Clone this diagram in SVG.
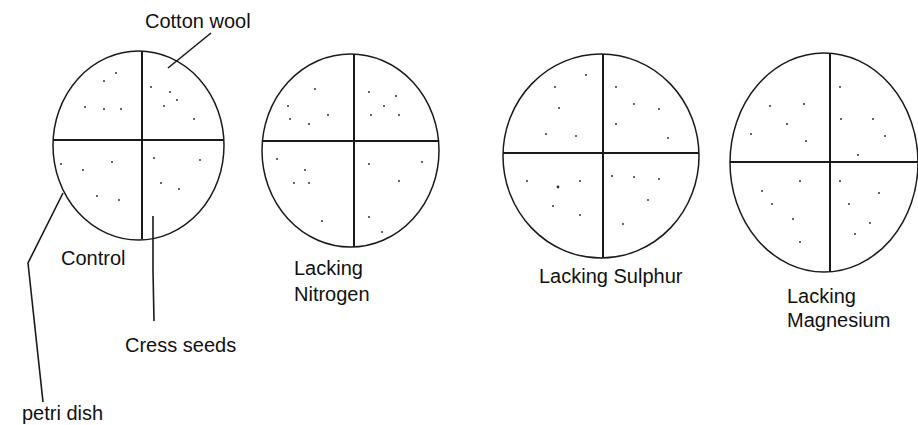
<svg xmlns="http://www.w3.org/2000/svg" width="918" height="425" viewBox="0 0 918 425">
<style>
.dish{fill:none;stroke:#1a1a1a;stroke-width:1.5}
.cross{stroke:#1a1a1a;stroke-width:2;fill:none}
.lead{stroke:#1a1a1a;stroke-width:1.6;fill:none}
.dot{fill:#333}
text{font-family:"Liberation Sans",Arial,sans-serif;font-size:20px;fill:#111}
</style>
<rect width="918" height="425" fill="#ffffff"/>
<g id="control">
<ellipse class="dish" cx="138.5" cy="145.5" rx="85.5" ry="94.5"/>
<path class="cross" d="M142 51V239M53 140H224"/>
<g class="dot">
<circle cx="116" cy="73" r="1"/><circle cx="104" cy="81" r="1"/><circle cx="85" cy="107" r="1"/><circle cx="104" cy="109" r="1"/><circle cx="121" cy="109" r="1"/><circle cx="151" cy="87" r="1"/><circle cx="170" cy="92" r="1"/><circle cx="177" cy="100" r="1"/><circle cx="164" cy="106" r="1"/><circle cx="194" cy="119" r="1"/><circle cx="61" cy="164" r="1"/><circle cx="83" cy="170" r="1"/><circle cx="112" cy="162" r="1"/><circle cx="97" cy="196" r="1"/><circle cx="119" cy="200" r="1"/><circle cx="154" cy="158" r="1"/><circle cx="200" cy="160" r="1"/><circle cx="161" cy="183" r="1"/><circle cx="179" cy="189" r="1"/>
</g>
<text x="61" y="265">Control</text>
</g>
<g id="nitrogen">
<ellipse class="dish" cx="350.5" cy="150.5" rx="88.5" ry="96.5"/>
<path class="cross" d="M354 54V247M262 141H439"/>
<g class="dot">
<circle cx="315" cy="89" r="1"/><circle cx="288" cy="106" r="1"/><circle cx="290" cy="119" r="1"/><circle cx="309" cy="124" r="1"/><circle cx="328" cy="115" r="1"/><circle cx="369" cy="92" r="1"/><circle cx="396" cy="96" r="1"/><circle cx="384" cy="106" r="1"/><circle cx="371" cy="115" r="1"/><circle cx="399" cy="115" r="1"/><circle cx="277" cy="159" r="1"/><circle cx="305" cy="170" r="1"/><circle cx="294" cy="183" r="1"/><circle cx="309" cy="183" r="1"/><circle cx="322" cy="221" r="1"/><circle cx="369" cy="164" r="1"/><circle cx="422" cy="162" r="1"/><circle cx="399" cy="181" r="1"/><circle cx="369" cy="217" r="1"/><circle cx="382" cy="232" r="1"/>
</g>
<text x="294" y="275">Lacking</text>
<text x="294" y="301">Nitrogen</text>
</g>
<g id="sulphur">
<ellipse class="dish" cx="601" cy="156" rx="98" ry="102"/>
<path class="cross" d="M603 54V258M503 153H699"/>
<g class="dot">
<circle cx="586" cy="75" r="1"/><circle cx="555" cy="87" r="1"/><circle cx="559" cy="108" r="1"/><circle cx="546" cy="134" r="1"/><circle cx="576" cy="136" r="1"/><circle cx="616" cy="87" r="1"/><circle cx="634" cy="104" r="1"/><circle cx="659" cy="109" r="1"/><circle cx="616" cy="124" r="1"/><circle cx="668" cy="138" r="1"/><circle cx="527" cy="181" r="1"/><circle cx="558" cy="187" r="1.4"/><circle cx="580" cy="181" r="1"/><circle cx="553" cy="206" r="1"/><circle cx="580" cy="215" r="1"/><circle cx="612" cy="176" r="1"/><circle cx="634" cy="177" r="1"/><circle cx="659" cy="179" r="1"/><circle cx="648" cy="200" r="1"/><circle cx="623" cy="224" r="1"/>
</g>
<text x="539" y="283">Lacking Sulphur</text>
</g>
<g id="magnesium">
<ellipse class="dish" cx="824" cy="162.5" rx="94" ry="109.5"/>
<path class="cross" d="M830 53V272M730 162H918"/>
<g class="dot">
<circle cx="840" cy="87" r="1"/><circle cx="770" cy="106" r="1"/><circle cx="804" cy="104" r="1"/><circle cx="787" cy="124" r="1"/><circle cx="751" cy="134" r="1"/><circle cx="806" cy="141" r="1"/><circle cx="841" cy="119" r="1"/><circle cx="873" cy="119" r="1"/><circle cx="885" cy="136" r="1"/><circle cx="858" cy="155" r="1"/><circle cx="800" cy="181" r="1"/><circle cx="762" cy="191" r="1"/><circle cx="772" cy="204" r="1"/><circle cx="793" cy="219" r="1"/><circle cx="800" cy="242" r="1"/><circle cx="840" cy="181" r="1"/><circle cx="879" cy="193" r="1"/><circle cx="849" cy="204" r="1"/><circle cx="870" cy="223" r="1"/><circle cx="855" cy="234" r="1"/>
</g>
<text x="787" y="303">Lacking</text>
<text x="787" y="327">Magnesium</text>
</g>
<g id="cotton-wool-label"><text x="145" y="28">Cotton wool</text></g>
<g id="cress-seeds-label"><text x="125" y="352">Cress seeds</text></g>
<g id="petri-dish-label"><text x="22" y="420">petri dish</text></g>
<g id="connectors">
<path class="lead" d="M211 33L168 68"/>
<path class="lead" d="M63 193L28 263L43 402"/>
<path class="lead" d="M153 216V270L154 321"/>
</g>
</svg>
